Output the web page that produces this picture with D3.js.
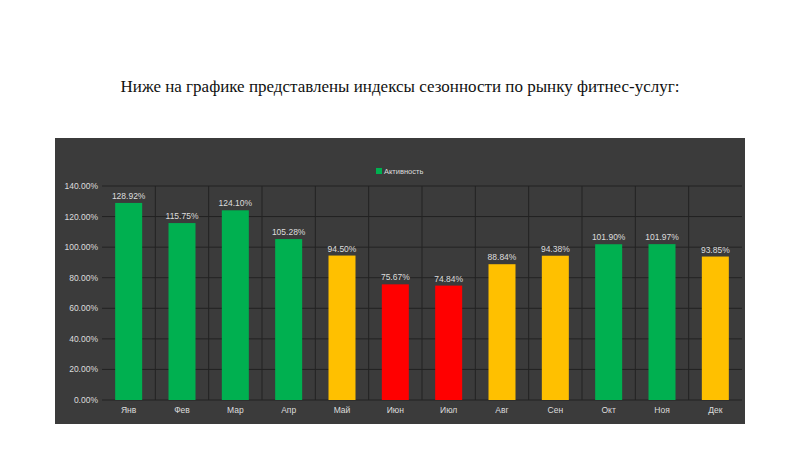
<!DOCTYPE html>
<html><head><meta charset="utf-8">
<script src="https://cdn.jsdelivr.net/npm/d3@7"></script>
<style>body{margin:0;background:#fff}</style></head>
<body><svg id="c" width="800" height="450"></svg>
<script>
const months = ["Янв","Фев","Мар","Апр","Май","Июн","Июл","Авг","Сен","Окт","Ноя","Дек"];
const values = [128.92,115.75,124.10,105.28,94.50,75.67,74.84,88.84,94.38,101.90,101.97,93.85];
const colors = ["#00b050","#00b050","#00b050","#00b050","#ffc000","#ff0000","#ff0000","#ffc000","#ffc000","#00b050","#00b050","#ffc000"];
const ticks = [0,20,40,60,80,100,120,140];

const svg = d3.select("#c");
svg.append("text").attr("x",400).attr("y",92).attr("text-anchor","middle")
  .attr("font-family","Liberation Serif").attr("font-size",17).attr("fill","#111")
  .text("Ниже на графике представлены индексы сезонности по рынку фитнес-услуг:");
svg.append("rect").attr("x",55).attr("y",138).attr("width",690).attr("height",286).attr("fill","#3b3b3b");

const x = d3.scaleBand().domain(months).range([102,742]).paddingInner(0).paddingOuter(0);
const y = d3.scaleLinear().domain([0,140]).range([400,186]);
const g = svg.append("g");
g.selectAll("line.h").data(ticks).join("line").attr("x1",102).attr("x2",742)
  .attr("y1",d=>y(d)).attr("y2",d=>y(d)).attr("stroke","#222").attr("stroke-width",1);
g.selectAll("line.v").data(months.slice(1)).join("line").attr("x1",d=>x(d)).attr("x2",d=>x(d))
  .attr("y1",186).attr("y2",400).attr("stroke","#222");
g.selectAll("text.t").data(ticks).join("text").attr("x",98).attr("y",d=>y(d)+3)
  .attr("text-anchor","end").attr("font-family","Liberation Sans").attr("font-size",8.5).attr("fill","#ddd")
  .text(d=>d.toFixed(2)+"%");
const bw = 27;
g.selectAll("rect.b").data(values).join("rect")
  .attr("x",(d,i)=>x(months[i])+x.bandwidth()/2-bw/2).attr("width",bw)
  .attr("y",d=>y(d)).attr("height",d=>400-y(d)).attr("fill",(d,i)=>colors[i]);
g.selectAll("text.v").data(values).join("text")
  .attr("x",(d,i)=>x(months[i])+x.bandwidth()/2).attr("y",d=>y(d)-4)
  .attr("text-anchor","middle").attr("font-family","Liberation Sans").attr("font-size",8.5).attr("fill","#ddd")
  .text(d=>d.toFixed(2)+"%");
g.selectAll("text.m").data(months).join("text")
  .attr("x",d=>x(d)+x.bandwidth()/2).attr("y",413)
  .attr("text-anchor","middle").attr("font-family","Liberation Sans").attr("font-size",8.5).attr("fill","#ddd")
  .text(d=>d);
svg.append("rect").attr("x",376).attr("y",168).attr("width",6).attr("height",6).attr("fill","#00b050");
svg.append("text").attr("x",384).attr("y",174).attr("font-family","Liberation Sans").attr("font-size",7.5)
  .attr("fill","#ddd").text("Активность");
</script></body></html>
